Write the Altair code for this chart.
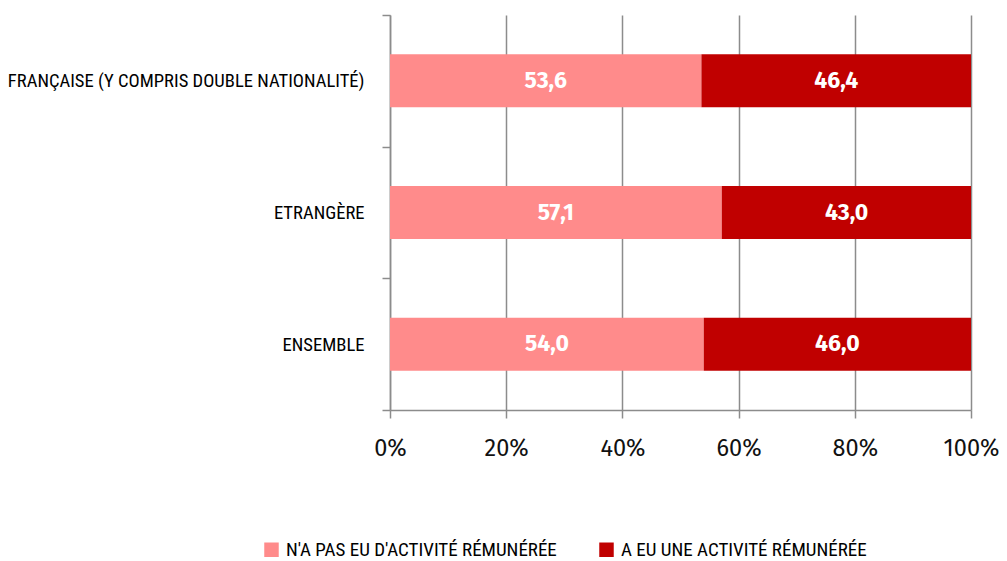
import altair as alt
import pandas as pd

categories = ["FRANÇAISE (Y COMPRIS DOUBLE NATIONALITÉ)", "ETRANGÈRE", "ENSEMBLE"]
series = ["N'A PAS EU D'ACTIVITÉ RÉMUNÉRÉE", "A EU UNE ACTIVITÉ RÉMUNÉRÉE"]
no_activity = [53.6, 57.1, 54.0]
activity = [46.4, 43.0, 46.0]
colors = ["#FF8B8B", "#C00000"]

rows = []
for i, c in enumerate(categories):
    rows.append({"cat": c, "serie": series[0], "order": 0, "v": no_activity[i]})
    rows.append({"cat": c, "serie": series[1], "order": 1, "v": activity[i]})
df = pd.DataFrame(rows)

base = alt.Chart(df).transform_stack(
    stack="v", groupby=["cat"], as_=["x0", "x1"], sort=[alt.SortField("order")]
).transform_calculate(
    mid="(datum.x0 + datum.x1) / 2",
    lab="replace(format(datum.v, '.1f'), '.', ',')",
)

GRAY = "#8c8c8c"

yenc = alt.Y(
    "cat:N", sort=categories, title=None,
    scale=alt.Scale(paddingInner=0, paddingOuter=0),
    axis=alt.Axis(
        labelFont="Roboto Condensed", labelFontSize=18.6, labelColor="#000",
        labelPadding=18, labelLimit=600, tickBand="extent", tickSize=8,
        tickColor=GRAY, domainColor=GRAY, tickWidth=1.5, domainWidth=1.5,
        grid=False,
    ),
)

bars = base.mark_bar(size=53).encode(
    x=alt.X(
        "x0:Q", title=None,
        scale=alt.Scale(domain=[0, 100], nice=False, clamp=True),
        axis=alt.Axis(
            values=[0, 20, 40, 60, 80, 100], labelExpr="datum.value + '%'",
            labelFont="Fira Sans", labelFontSize=23.5, labelColor="#111", labelPadding=18,
            labelFlush=False,
            tickSize=8, tickColor=GRAY, domainColor=GRAY, tickWidth=1.5,
            domainWidth=1.5, grid=True, gridColor=GRAY, gridWidth=1.5,
        ),
    ),
    x2="x1:Q",
    y=yenc,
    color=alt.Color(
        "serie:N", sort=series, title=None,
        scale=alt.Scale(domain=series, range=colors),
        legend=alt.Legend(
            orient="none", legendX=-128, legendY=525, direction="horizontal",
            symbolType="square", symbolSize=210, symbolStrokeWidth=0,
            labelFont="Roboto Condensed", labelFontSize=19, labelColor="#000",
            columnPadding=40, labelLimit=400, padding=0, labelOffset=5,
        ),
    ),
)

texts = base.mark_text(
    color="white", font="Fira Sans", fontWeight="bold", fontSize=23
).encode(
    x=alt.X("mid:Q"),
    y=alt.Y("cat:N", sort=categories),
    text="lab:N",
)

chart = alt.layer(bars, texts).properties(
    width=581, height=395,
    autosize=alt.AutoSizeParams(type="none"),
    padding={"left": 382, "top": 7, "right": 28, "bottom": 170},
).configure_view(stroke=None).configure_axis(labelOverlap=False)

chart.save("out.html", embed_options={"renderer": "svg", "actions": False})
